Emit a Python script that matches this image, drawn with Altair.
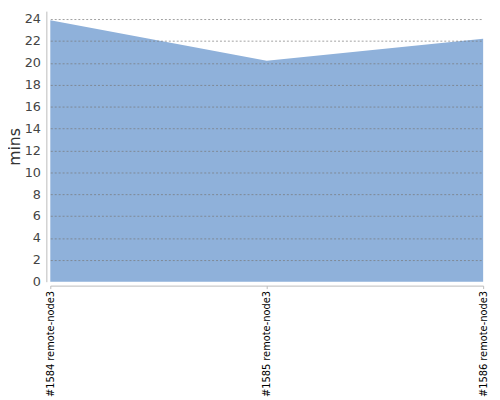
import altair as alt
import pandas as pd

builds = ["#1584 remote-node3", "#1585 remote-node3", "#1586 remote-node3"]
mins = [23.9, 20.2, 22.2]

df = pd.DataFrame({"build": builds, "mins": mins})

chart = alt.Chart(df).mark_area(color="#8fb1da", opacity=1).encode(
    x=alt.X("build:N", sort=builds, title=None,
            scale=alt.Scale(type="point", padding=0),
            axis=alt.Axis(labelAngle=-90, labelFontSize=10, labelColor="#000",
                          labelFont="DejaVu Sans", offset=4, tickSize=3,
                          tickColor="#bbb", domainColor="#bbb", grid=False,
                          labelAlign="right", labelBaseline="middle", labelPadding=2,
                          labelLimit=200)),
    y=alt.Y("mins:Q", title="mins",
            scale=alt.Scale(domain=[0, 24.72], nice=False, zero=True),
            axis=alt.Axis(values=list(range(0, 25, 2)), labelFontSize=13,
                          labelColor="#444", labelFont="DejaVu Sans",
                          titleFont="DejaVu Sans", titleFontSize=16,
                          titleFontWeight="normal", titleColor="#333",
                          titlePadding=2, offset=4, ticks=False,
                          domainColor="#bbb", labelPadding=6,
                          grid=True, gridColor="#777", gridDash=[2, 2],
                          gridOpacity={"condition": {"test": "datum.value == 0", "value": 0}, "value": 0.7},
                          zindex=1)),
).properties(
    width=440, height=275, autosize="none",
    padding={"left": 43, "top": 0, "right": 9, "bottom": 114}
).configure_view(stroke=None)

chart.save("out.html", embed_options={"renderer": "svg", "actions": False})
